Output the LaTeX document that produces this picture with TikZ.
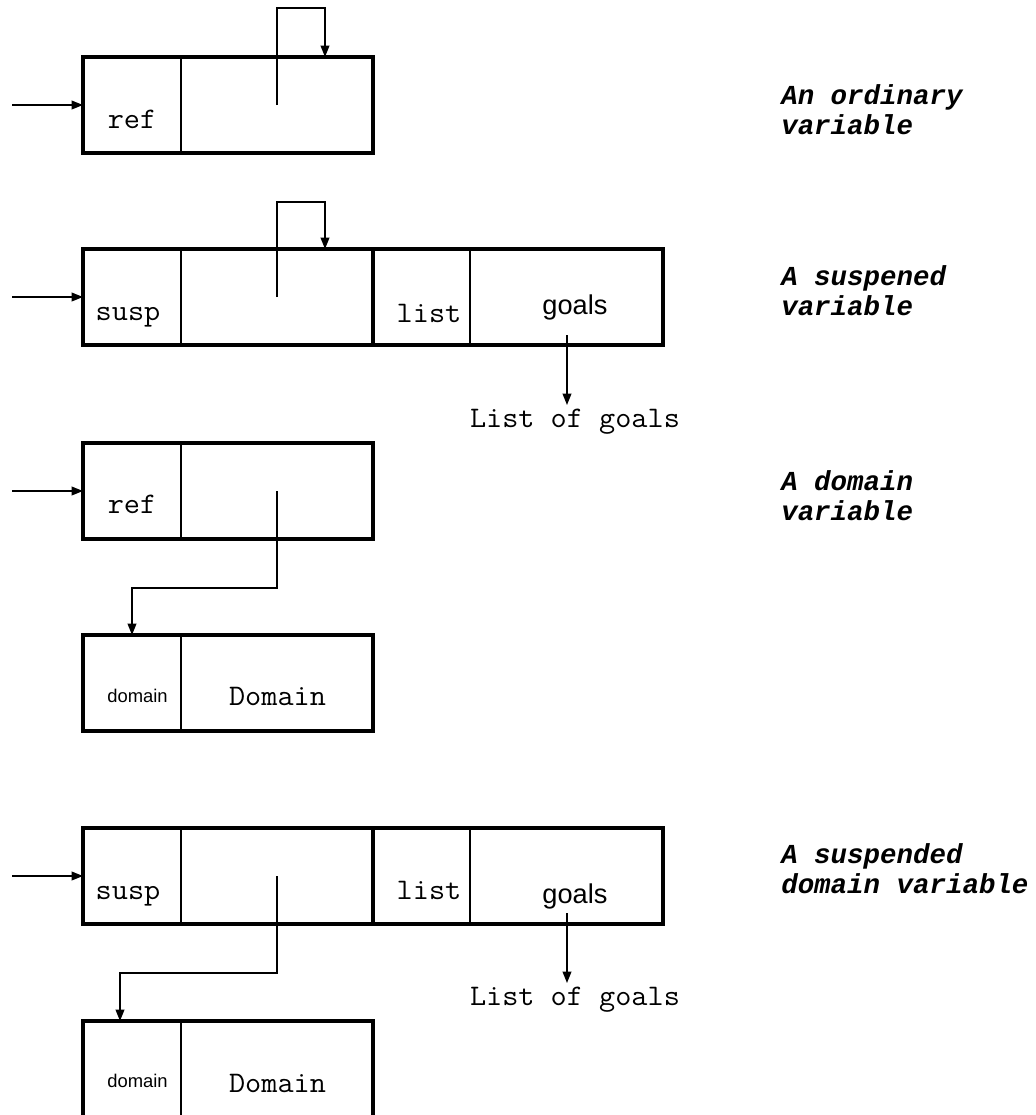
\documentclass[tikz,border=0pt]{standalone}
\usepackage{fontspec}
\newfontfamily\courfont[FakeStretch=1.05]{Latin Modern Mono}
\newfontfamily\capfont{Liberation Mono}
\newfontfamily\arialfont{Liberation Sans}
\usetikzlibrary{arrows.meta}
\begin{document}
\begin{tikzpicture}[x=0.75pt,y=-0.75pt,
  record/.style={draw, line width=3pt, inner sep=0pt, outer sep=0pt,
    anchor=north west, minimum width=217.5pt, minimum height=72pt},
  divider/.style={line width=1.2pt},
  link/.style={line width=1.2pt, -{Triangle[length=8.5pt,width=6.5pt]}},
  mono/.style={font=\courfont\fontsize{22.4}{24}\selectfont, inner sep=0pt, anchor=base},
  sans/.style={font=\arialfont\fontsize{20.4}{24}\selectfont, inner sep=0pt, anchor=base},
  tag/.style={font=\arialfont\fontsize{13.8}{16}\selectfont, inner sep=0pt, anchor=base},
  caption/.style={font=\capfont\bfseries\itshape\fontsize{20.6}{22.5}\selectfont,
    inner sep=0pt, anchor=base west},
]
\useasboundingbox (0,0) rectangle (1036,1115);

% ---------- an ordinary variable ----------
\node[record] (r1) at (83,57) {};
\draw[divider] ([xshift=73.5pt]r1.north west) -- ([xshift=73.5pt]r1.south west);
\node[mono] (t1) at (132,128) {ref};
\coordinate (e1) at (12,105);
\draw[link] (e1) -- (r1.west);
\coordinate (s1) at (277,105);
\coordinate (k1) at (325,8);
\draw[link] (s1) |- (k1) -- (k1 |- r1.north);
\node[caption] (c1a) at (781,104) {An ordinary};
\node[caption] (c1b) at (781,134) {variable};

% ---------- a suspended variable ----------
\node[record] (r2) at (83,249) {};
\draw[divider] ([xshift=73.5pt]r2.north west) -- ([xshift=73.5pt]r2.south west);
\node[record] (r2b) at (373,249) {};
\draw[divider] ([xshift=72.75pt]r2b.north west) -- ([xshift=72.75pt]r2b.south west);
\node[mono] (t2) at (128,320) {susp};
\node[mono] (l2) at (429,322) {list};
\node[sans] (g2) at (575,314) {goals};
\coordinate (e2) at (12,297);
\draw[link] (e2) -- (r2.west);
\coordinate (s2) at (277,297);
\coordinate (k2) at (325,202);
\draw[link] (s2) |- (k2) -- (k2 |- r2.north);
\coordinate (q2) at (567,335);
\node[mono] (lg2) at (575,427) {List of goals};
\draw[link] (q2) -- (567,405);
\node[caption] (c2a) at (781,285) {A suspened};
\node[caption] (c2b) at (781,315) {variable};

% ---------- a domain variable ----------
\node[record] (r3) at (83,443) {};
\draw[divider] ([xshift=73.5pt]r3.north west) -- ([xshift=73.5pt]r3.south west);
\node[mono] (t3) at (132,513) {ref};
\coordinate (e3) at (12,491);
\draw[link] (e3) -- (r3.west);
\node[record] (r4) at (83,635) {};
\draw[divider] ([xshift=73.5pt]r4.north west) -- ([xshift=73.5pt]r4.south west);
\node[tag] (d4) at (137.5,702) {domain};
\node[mono] (v4) at (277.5,705) {Domain};
\coordinate (s3) at (277,491);
\coordinate (k3) at (132,588);
\draw[link] (s3) |- (k3) -- (k3 |- r4.north);
\node[caption] (c3a) at (781,490) {A domain};
\node[caption] (c3b) at (781,520) {variable};

% ---------- a suspended domain variable ----------
\node[record] (r5) at (83,828) {};
\draw[divider] ([xshift=73.5pt]r5.north west) -- ([xshift=73.5pt]r5.south west);
\node[record] (r5b) at (373,828) {};
\draw[divider] ([xshift=72.75pt]r5b.north west) -- ([xshift=72.75pt]r5b.south west);
\node[mono] (t5) at (128,899) {susp};
\node[mono] (l5) at (429,899) {list};
\node[sans] (g5) at (575,903) {goals};
\coordinate (e5) at (12,876);
\draw[link] (e5) -- (r5.west);
\coordinate (q5) at (567,913);
\node[mono] (lg5) at (575,1005) {List of goals};
\draw[link] (q5) -- (567,983);
\node[caption] (c5a) at (781,863) {A suspended};
\node[caption] (c5b) at (781,893) {domain variable};

\begin{scope}
  \clip (0,0) rectangle (1036,1115);
  \node[record, minimum height=78pt] (r6) at (83,1021) {};
  \draw[divider] ([xshift=73.5pt]r6.north west) -- ([xshift=73.5pt]r6.south west);
\end{scope}
\node[tag] (d6) at (137.5,1087) {domain};
\node[mono] (v6) at (277.5,1092) {Domain};
\coordinate (s5) at (277,876);
\coordinate (k5) at (120,973);
\draw[link] (s5) |- (k5) -- (k5 |- r6.north);
\end{tikzpicture}
\end{document}
